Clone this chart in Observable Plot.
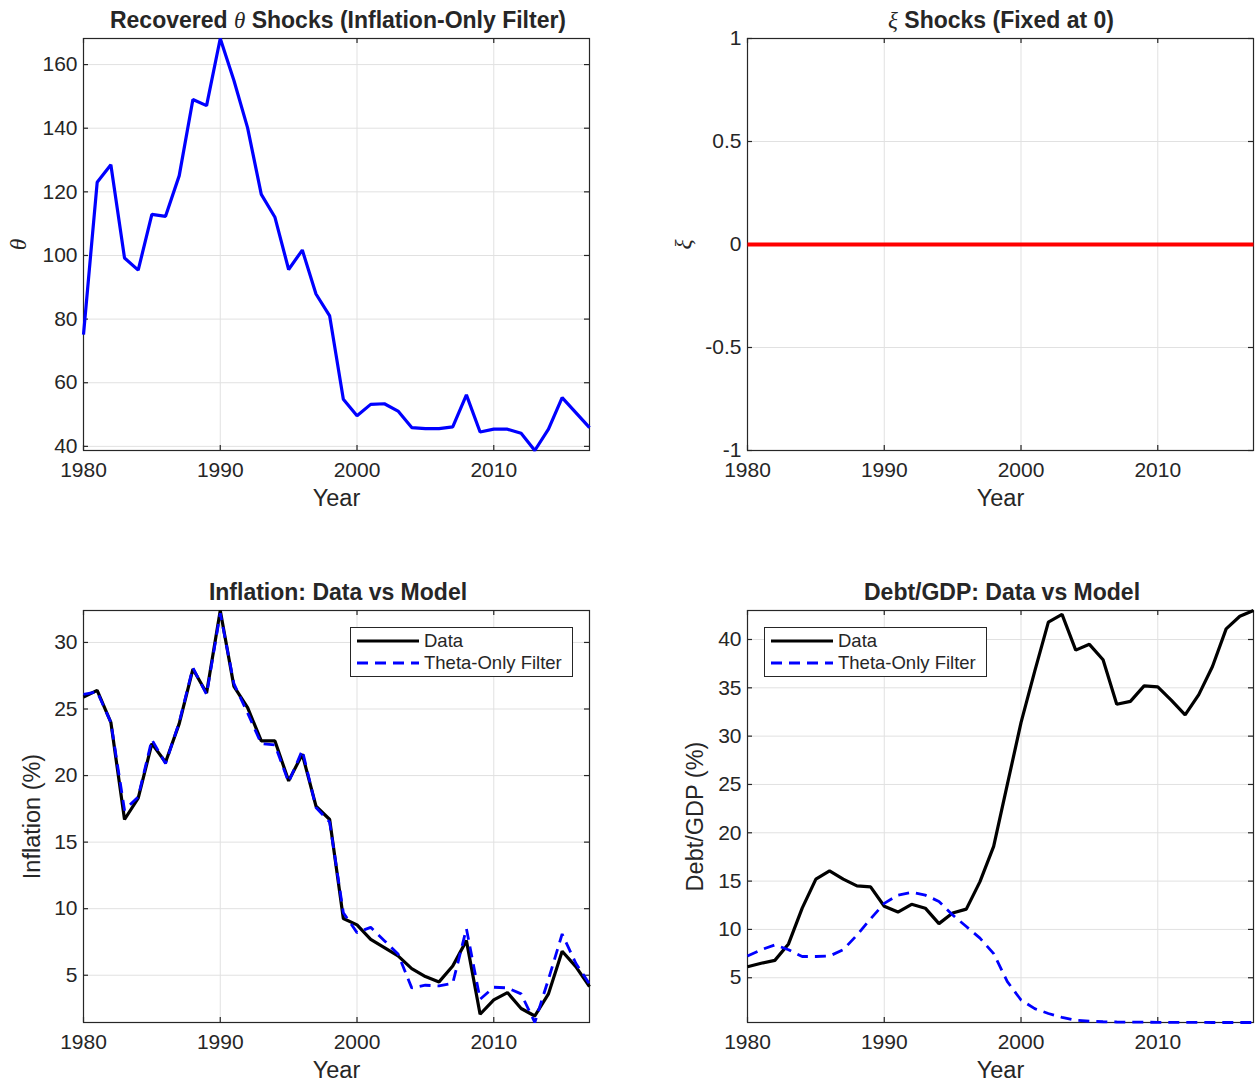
<!DOCTYPE html>
<html>
<head>
<meta charset="utf-8">
<script src="https://cdn.jsdelivr.net/npm/d3@7"></script>
<script src="https://cdn.jsdelivr.net/npm/@observablehq/plot@0.6"></script>
<style>
  html, body { margin: 0; padding: 0; background: white; }
  #root { position: relative; width: 1255px; height: 1084px; overflow: hidden; background: white;
          font-family: "Liberation Sans", Arial, Helvetica, sans-serif; color: #262626; }
  .panel { position: absolute; }
  .title { position: absolute; transform: translate(-50%, -50%); white-space: nowrap;
           font-weight: bold; font-size: 23px; color: #262626; line-height: 1; }
  .title .sym { font-family: "Liberation Serif", "DejaVu Serif", serif; font-style: italic; font-weight: normal; }
  .legend { position: absolute; background: white; border: 1px solid #262626; box-sizing: border-box;
            font-size: 18.5px; color: #262626; padding: 2px 0 0 6px; }
  .legend .row { display: flex; align-items: center; height: 22px; white-space: nowrap; }
  .legend svg { margin-right: 5px; }
</style>
</head>
<body>
<div id="root"></div>
<script>
// ---------------- data ----------------
const years = d3.range(1980, 2018);
const thetaShocks = [75.1, 123.0, 128.5, 99.2, 95.4, 112.9, 112.3, 125.1, 149.0, 147.1,
  168.2, 155.0, 140.1, 119.2, 112.0, 95.6, 101.7, 87.9, 81.0, 54.8,
  49.6, 53.2, 53.4, 51.1, 45.9, 45.6, 45.6, 46.1, 56.2, 44.5,
  45.4, 45.4, 44.1, 38.7, 45.4, 55.3, 50.6, 45.9];
const xiShocks = [0, 0, 0, 0, 0, 0, 0, 0, 0, 0, 0, 0, 0, 0, 0, 0, 0, 0, 0, 0,
  0, 0, 0, 0, 0, 0, 0, 0, 0, 0, 0, 0, 0, 0, 0, 0, 0, 0];
const inflationData = [25.9, 26.4, 24.0, 16.7, 18.3, 22.4, 21.0, 23.9, 28.0, 26.2,
  32.4, 26.7, 25.1, 22.6, 22.6, 19.6, 21.6, 17.7, 16.7, 9.26,
  8.78, 7.7, 7.08, 6.45, 5.5, 4.9, 4.5, 5.7, 7.6, 2.07,
  3.15, 3.7, 2.5, 1.94, 3.6, 6.8, 5.65, 4.15];
const inflationModel = [26.1, 26.3, 24.0, 17.4, 18.4, 22.7, 20.9, 24.0, 28.1, 26.1,
  32.2, 26.9, 24.7, 22.4, 22.3, 19.5, 21.9, 17.6, 16.5, 9.7,
  8.2, 8.6, 7.6, 6.6, 4.05, 4.25, 4.2, 4.4, 8.5, 3.2,
  4.1, 4.05, 3.6, 1.45, 4.7, 8.1, 5.9, 4.35];
const debtData = [6.14, 6.5, 6.8, 8.5, 12.2, 15.2, 16.05, 15.2, 14.5, 14.4,
  12.4, 11.8, 12.6, 12.2, 10.6, 11.7, 12.1, 14.95, 18.6, 25.0,
  31.4, 36.7, 41.8, 42.6, 38.9, 39.5, 37.9, 33.3, 33.6, 35.2,
  35.1, 33.7, 32.2, 34.3, 37.2, 41.1, 42.4, 43.0];
const debtModel = [7.25, 7.9, 8.4, 7.9, 7.2, 7.2, 7.25, 7.9, 9.4, 11.1,
  12.7, 13.55, 13.85, 13.55, 12.9, 11.5, 10.3, 9.1, 7.5, 4.6,
  2.7, 1.8, 1.3, 0.9, 0.6, 0.5, 0.45, 0.42, 0.40, 0.40,
  0.39, 0.38, 0.38, 0.38, 0.37, 0.37, 0.37, 0.37];

const xTicks = [1980, 1990, 2000, 2010];
const thetaTicks = [40, 60, 80, 100, 120, 140, 160];
const xiTicks = [-1, -0.5, 0, 0.5, 1];
const inflationTicks = [5, 10, 15, 20, 25, 30];
const debtTicks = [5, 10, 15, 20, 25, 30, 35, 40];

const titles = [
  {html: 'Recovered <span class="sym">θ</span> Shocks (Inflation-Only Filter)', x: 338, y: 20},
  {html: '<span class="sym">ξ</span> Shocks (Fixed at 0)', x: 1001, y: 20},
  {html: 'Inflation: Data vs Model', x: 338, y: 592},
  {html: 'Debt/GDP: Data vs Model', x: 1002, y: 592}
];
const legendLabels = ["Data", "Theta-Only Filter"];

// ---------------- layout helpers ----------------
const FONT = '"Liberation Sans", Arial, Helvetica, sans-serif';
const AX = "#262626";
const GRID = "#e1e1e1";
const ML = 83, MR = 2, MT = 38, MB = 62, PW = 506, PH = 412;

function table(ys) { return years.map((y, i) => ({year: y, v: ys[i]})); }

function panel({yDomain, yTicks, series, ylabel, ylabelDx, ylabelSym}) {
  const marks = [
    Plot.gridX({ticks: xTicks, stroke: GRID, strokeOpacity: 1, strokeWidth: 1}),
    Plot.gridY({ticks: yTicks, stroke: GRID, strokeOpacity: 1, strokeWidth: 1}),
    Plot.frame({stroke: AX, strokeWidth: 1.2}),
    Plot.tickX(xTicks, {x: d => d, insetTop: PH - 5, stroke: AX, strokeWidth: 1.2}),
    Plot.tickX(xTicks, {x: d => d, insetBottom: PH - 5, stroke: AX, strokeWidth: 1.2}),
    Plot.tickY(yTicks, {y: d => d, insetRight: PW - 5, stroke: AX, strokeWidth: 1.2}),
    Plot.tickY(yTicks, {y: d => d, insetLeft: PW - 5, stroke: AX, strokeWidth: 1.2}),
    ...series.map(s => Plot.line(table(s.values), {
      x: "year", y: "v", stroke: s.color, strokeWidth: s.width,
      strokeDasharray: s.dash || null, strokeLinejoin: "miter", strokeLinecap: "butt"
    })),
    Plot.axisX({ticks: xTicks, tickSize: 0, tickPadding: 12, tickFormat: d => String(d),
      label: null, fontSize: 21, fill: AX}),
    Plot.axisY({ticks: yTicks, tickSize: 0, tickPadding: 6, tickFormat: d => String(d),
      label: null, fontSize: 21, fill: AX}),
    Plot.text(["Year"], {text: d => d, frameAnchor: "bottom", dy: 55, fontSize: 23.5, fill: AX}),
    Plot.text([ylabel], {text: d => d, frameAnchor: "left", textAnchor: "middle", dx: ylabelDx, rotate: -90,
      fontSize: 23.5, fill: AX,
      fontFamily: ylabelSym ? '"Liberation Serif", "DejaVu Serif", serif' : FONT,
      fontStyle: ylabelSym ? "italic" : "normal"})
  ];
  return Plot.plot({
    width: ML + PW + MR, height: MT + PH + MB,
    marginLeft: ML, marginRight: MR, marginTop: MT, marginBottom: MB,
    x: {domain: [1980, 2017]},
    y: {domain: yDomain},
    style: {fontFamily: FONT, fontSize: "21px", color: AX, background: "white", overflow: "visible"},
    marks
  });
}

const root = document.getElementById("root");
function place(node, left, top) {
  const d = document.createElement("div");
  d.className = "panel";
  d.style.left = left + "px";
  d.style.top = top + "px";
  d.appendChild(node);
  root.appendChild(d);
}

place(panel({
  yDomain: d3.extent(thetaShocks), yTicks: thetaTicks,
  series: [{values: thetaShocks, color: "#0000ff", width: 3.2}],
  ylabel: "θ", ylabelDx: -65, ylabelSym: true
}), 0, 0);

place(panel({
  yDomain: [-1, 1], yTicks: xiTicks,
  series: [{values: xiShocks, color: "#ff0000", width: 3.8}],
  ylabel: "ξ", ylabelDx: -64, ylabelSym: true
}), 664, 0);

place(panel({
  yDomain: d3.extent(inflationData.concat(inflationModel)), yTicks: inflationTicks,
  series: [
    {values: inflationData, color: "#000000", width: 3.2},
    {values: inflationModel, color: "#0000ff", width: 2.8, dash: "11,7"}
  ],
  ylabel: "Inflation (%)", ylabelDx: -51
}), 0, 572);

place(panel({
  yDomain: d3.extent(debtData.concat(debtModel)), yTicks: debtTicks,
  series: [
    {values: debtData, color: "#000000", width: 3.2},
    {values: debtModel, color: "#0000ff", width: 2.8, dash: "11,7"}
  ],
  ylabel: "Debt/GDP (%)", ylabelDx: -52
}), 664, 572);

// titles
for (const t of titles) {
  const d = document.createElement("div");
  d.className = "title";
  d.style.left = t.x + "px";
  d.style.top = t.y + "px";
  d.innerHTML = t.html;
  root.appendChild(d);
}

// legends
function legend(left, top) {
  const d = document.createElement("div");
  d.className = "legend";
  d.style.left = left + "px";
  d.style.top = top + "px";
  d.style.width = "223px";
  d.style.height = "50px";
  const styles = [
    {stroke: "#000000", dash: null, w: 3.2},
    {stroke: "#0000ff", dash: "11,7", w: 2.8}
  ];
  legendLabels.forEach((lab, i) => {
    const row = document.createElement("div");
    row.className = "row";
    const s = styles[i];
    row.innerHTML = `<svg width="62" height="10"><line x1="0" x2="62" y1="5" y2="5" stroke="${s.stroke}" stroke-width="${s.w}" ${s.dash ? `stroke-dasharray="${s.dash}"` : ""}/></svg><span>${lab}</span>`;
    d.appendChild(row);
  });
  root.appendChild(d);
}
legend(350, 627);
legend(764, 627);
</script>
</body>
</html>
